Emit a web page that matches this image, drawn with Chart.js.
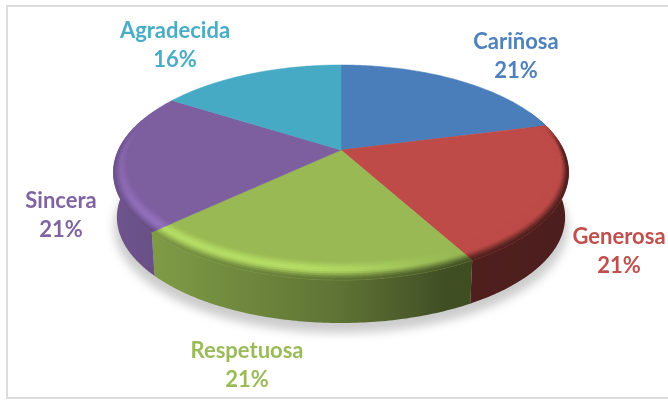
<!DOCTYPE html>
<html>
<head>
<meta charset="utf-8">
<script src="https://cdn.jsdelivr.net/npm/chart.js@4"></script>
<style>
html,body{margin:0;padding:0;background:#fff;overflow:hidden}
#frame{position:absolute;left:6px;top:5px;width:665px;height:390px;border:2px solid #dcdcdc;box-sizing:content-box}
canvas{position:absolute;left:0;top:0}
</style>
</head>
<body>
<div id="frame"></div>
<canvas id="c" width="668" height="401"></canvas>
<script>
const categories = ['Cariñosa', 'Generosa', 'Respetuosa', 'Sincera', 'Agradecida'];
const shares = [21, 21, 21, 21, 16];
const faceColors = ['#4a7ebb', '#be4b48', '#98b954', '#7d5fa0', '#46aac5'];
const textColors = ['#4f81bd', '#c0504d', '#9bbb59', '#8064a2', '#4bacc6'];

// Layout of the tilted disc and label anchors (pixels)
const view = {cx: 341, cy: 150, A: 222.5, B: 102.8, k: 0.209, drop: 45, shrink: 0.985};
const labelAnchors = [[516, 42], [619, 237], [247, 351], [61, 201], [175, 31]];

function rgb(hex){return [1,3,5].map(i=>parseInt(hex.substr(i,2),16));}
function mix(a,b,t){return a.map((v,i)=>v+(b[i]-v)*t);}
function css(c){return 'rgb('+c.map(v=>Math.round(Math.min(255,v))).join(',')+')';}
function smooth(a,b,x){const t=Math.min(1,Math.max(0,(x-a)/(b-a)));return t*t*(3-2*t);}

function project(a, r, lower){
  const u=Math.cos(a)*r, v=Math.sin(a)*r, d=1-view.k*v;
  const s=lower?view.shrink:1, dz=lower?view.drop:0;
  return [view.cx+s*view.A*u/d, view.cy+dz+s*view.B*v/d];
}
function wallFactor(u){
  const pts=[[-1,.88],[-.7,.8],[0,.62],[.48,.42],[1,.4]];
  for(let i=1;i<pts.length;i++){
    if(u<=pts[i][0]){const p=pts[i-1],q=pts[i];return p[1]+(q[1]-p[1])*(u-p[0])/(q[0]-p[0]);}
  }
  return .4;
}
function quad(ctx,p,color){
  ctx.fillStyle=color;ctx.strokeStyle=color;ctx.lineWidth=.6;
  ctx.beginPath();ctx.moveTo(p[0][0],p[0][1]);
  for(let i=1;i<p.length;i++)ctx.lineTo(p[i][0],p[i][1]);
  ctx.closePath();ctx.fill();ctx.stroke();
}
function bevelPoint(a,t){
  const rIn=.95-.075*Math.max(Math.sin(a),0);
  return project(a,rIn+(1-rIn)*t,false);
}
function bevelColor(base,wall,a,t){
  const u=Math.cos(a), v=Math.sin(a);
  const w=smooth(-.3,.05,v);
  const dot=-.75*u+.65*v;
  const glow=smooth(.2,.8,dot)*(.4+.6*smooth(0,.8,v));
  const bright=mix(base,base.map(c=>c*1.2),glow);
  let c;
  if(t<.5) c=mix(base,bright,smooth(0,.5,t));
  else c=mix(bright,wall,smooth(.5,1,t));
  return mix(base,c,w);
}

const disc3d = {
  id:'disc3d',
  beforeDatasetDraw(chart){
    const ctx=chart.ctx, arcs=chart.getDatasetMeta(0).data;
    const STEP=Math.PI/240, N=10;
    // soft ground shadow
    ctx.save();
    ctx.filter='blur(5px)';
    ctx.fillStyle='rgba(0,0,0,.2)';
    ctx.beginPath();
    for(let a=0;a<Math.PI*2;a+=.05){
      const p=project(a,1,true);
      ctx.lineTo(p[0]+(p[0]-view.cx)*.012,p[1]+10);
    }
    ctx.closePath();ctx.fill();
    ctx.restore();
    // side wall, one polygon per slice with a left-to-right gradient
    arcs.forEach((el,i)=>{
      const base=rgb(faceColors[i]);
      const top=[],low=[];
      for(let a=el.startAngle;;a+=STEP){
        const t=Math.min(a,el.endAngle);
        if(Math.sin(t)>-.4){top.push(project(t,1,false));low.push(project(t,1,true));}
        if(a>=el.endAngle)break;
      }
      if(!top.length)return;
      const xs=top.concat(low).map(p=>p[0]);
      const x0=Math.min(...xs),x1=Math.max(...xs);
      const g=ctx.createLinearGradient(x0,0,x1,0);
      for(let s=0;s<=12;s++){
        const x=x0+(x1-x0)*s/12;
        const u=Math.max(-1,Math.min(1,(x-view.cx)/view.A));
        g.addColorStop(s/12,css(base.map(c=>c*wallFactor(u))));
      }
      ctx.fillStyle=g;
      ctx.beginPath();
      top.forEach(p=>ctx.lineTo(p[0],p[1]));
      low.reverse().forEach(p=>ctx.lineTo(p[0],p[1]));
      ctx.closePath();ctx.fill();
    });
    // top faces
    arcs.forEach((el,i)=>{
      ctx.fillStyle=faceColors[i];ctx.strokeStyle=faceColors[i];ctx.lineWidth=.5;
      ctx.beginPath();ctx.moveTo(view.cx,view.cy);
      for(let a=el.startAngle;a<el.endAngle;a+=STEP){const p=project(a,1,false);ctx.lineTo(p[0],p[1]);}
      const e=project(el.endAngle,1,false);ctx.lineTo(e[0],e[1]);
      ctx.closePath();ctx.fill();ctx.stroke();
    });
    // rounded rim
    arcs.forEach((el,i)=>{
      const base=rgb(faceColors[i]);
      for(let a=el.startAngle;a<el.endAngle-1e-6;a+=STEP){
        const b=Math.min(a+STEP,el.endAngle), m=(a+b)/2;
        if(Math.sin(m)<-.3)continue;
        const wall=base.map(c=>c*wallFactor(Math.cos(m)));
        for(let n=0;n<N;n++){
          const t0=n/N,t1=(n+1)/N;
          quad(ctx,[bevelPoint(a,t0),bevelPoint(b,t0),bevelPoint(b,t1),bevelPoint(a,t1)],css(bevelColor(base,wall,m,(t0+t1)/2)));
        }
      }
    });
    return false;
  },
  afterDraw(chart){
    const ctx=chart.ctx, data=chart.data.datasets[0].data;
    ctx.save();
    ctx.font='bold 22px Lato';
    ctx.textAlign='center';ctx.textBaseline='middle';
    chart.data.labels.forEach((label,i)=>{
      ctx.fillStyle=textColors[i];
      ctx.fillText(label,labelAnchors[i][0],labelAnchors[i][1]);
      ctx.fillText(data[i]+'%',labelAnchors[i][0],labelAnchors[i][1]+29);
    });
    ctx.restore();
  }
};

new Chart(document.getElementById('c'),{
  type:'pie',
  data:{labels:categories,datasets:[{data:shares,backgroundColor:faceColors,borderWidth:0}]},
  options:{
    responsive:false,animation:false,
    plugins:{legend:{display:false},tooltip:{enabled:false}}
  },
  plugins:[disc3d]
});
</script>
</body>
</html>
